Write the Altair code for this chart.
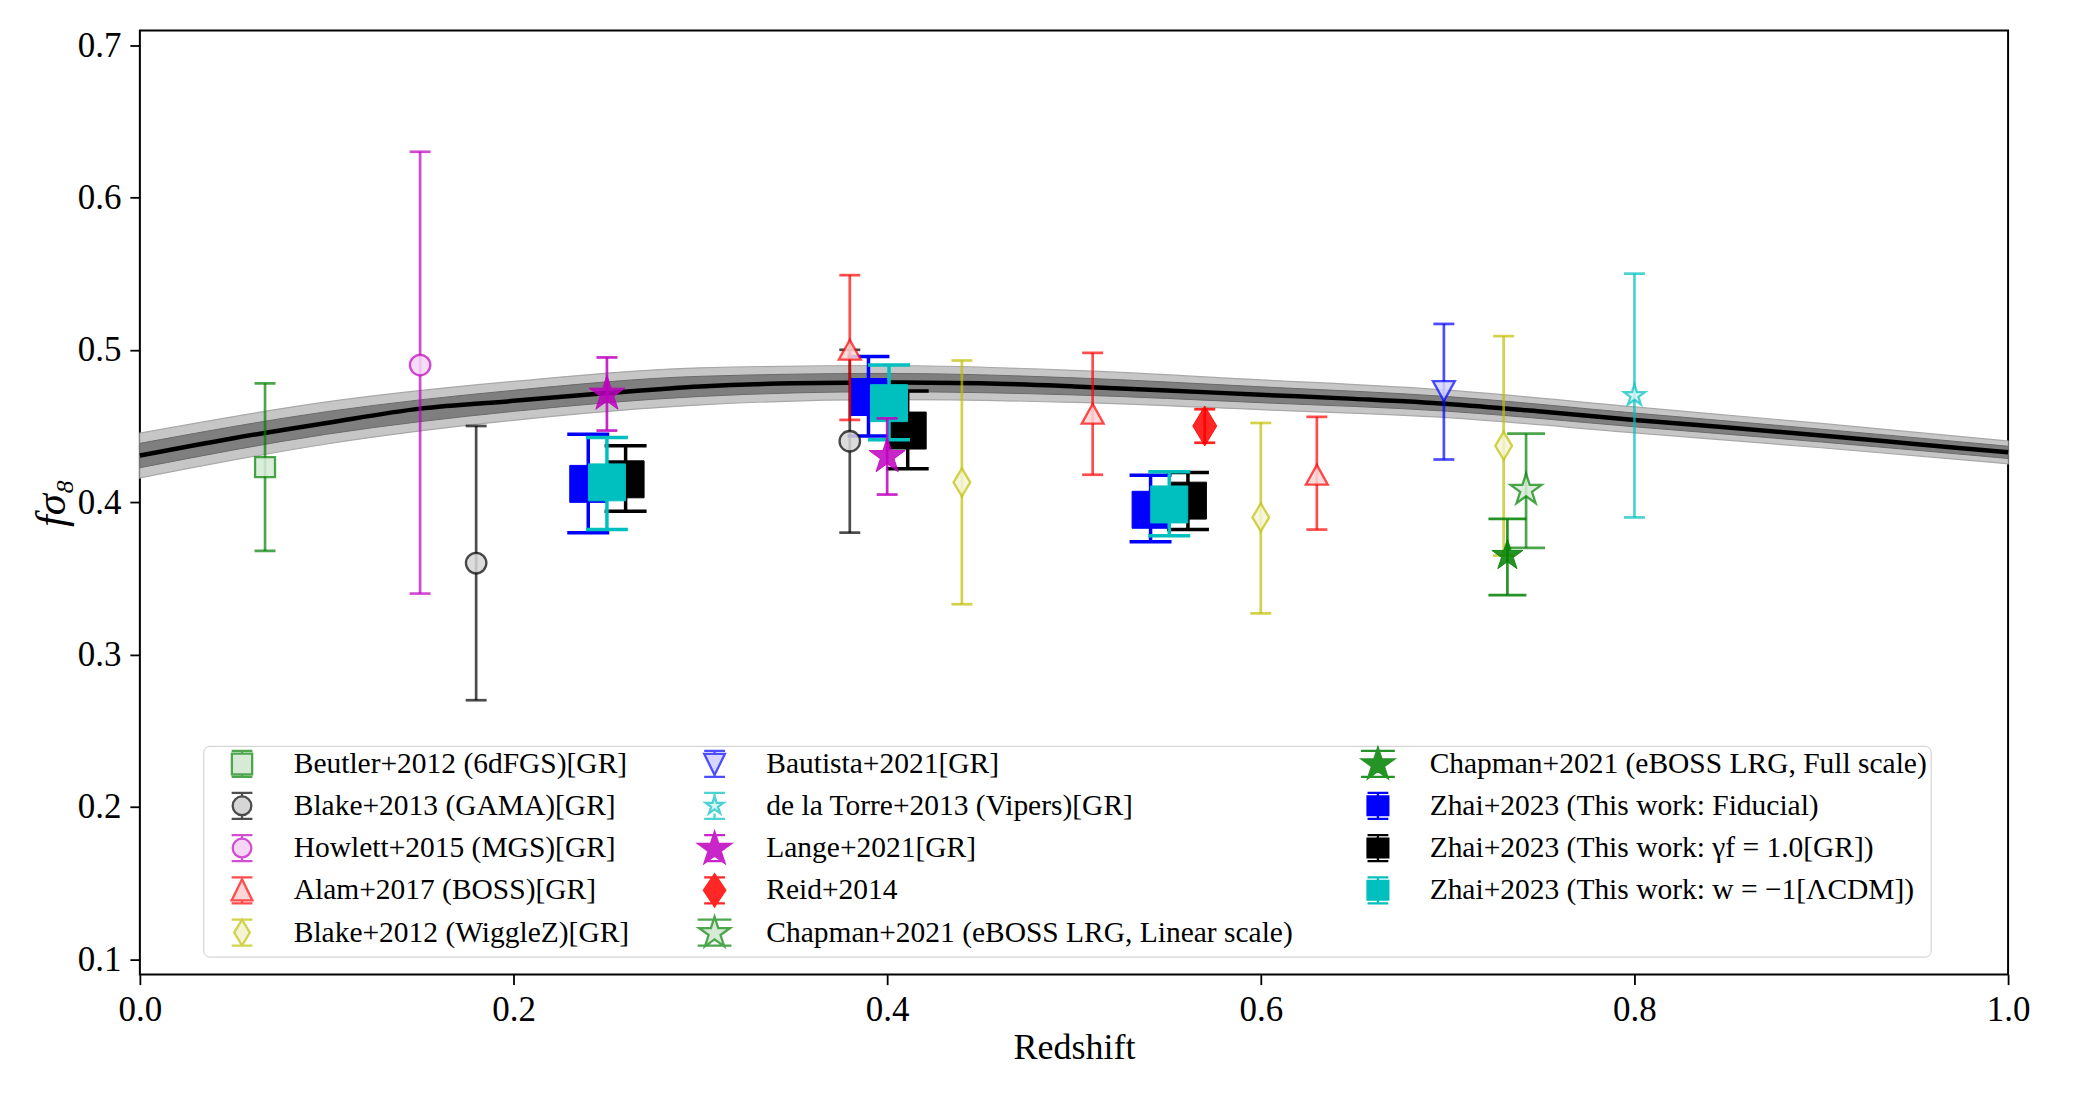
import math
import altair as alt
import pandas as pd

# ---------------- data ----------------
theory_z = [0.00, 0.05, 0.10, 0.15, 0.20, 0.25, 0.30, 0.35, 0.40, 0.45, 0.50,
            0.55, 0.60, 0.65, 0.70, 0.75, 0.80, 0.85, 0.90, 0.95, 1.00]
theory_fs8 = [0.4306, 0.4420, 0.4520, 0.4614, 0.4665, 0.4716, 0.4760, 0.4780, 0.4785, 0.4780, 0.4760,
              0.4733, 0.4705, 0.4678, 0.4645, 0.4595, 0.4540, 0.4490, 0.4437, 0.4382, 0.4327]

band_z = [0.0, 0.1, 0.2, 0.3, 0.4, 0.5, 0.6, 0.7, 0.8, 0.9, 1.0]
band_outer_lo = [0.4159, 0.4382, 0.4537, 0.4638, 0.4673, 0.4655, 0.4607, 0.4555, 0.4455, 0.4357, 0.4252]
band_outer_hi = [0.4453, 0.4658, 0.4793, 0.4882, 0.4897, 0.4865, 0.4803, 0.4735, 0.4625, 0.4517, 0.4402]
band_inner_lo = [0.4226, 0.4446, 0.4596, 0.4694, 0.4725, 0.4704, 0.4653, 0.4597, 0.4495, 0.4395, 0.4287]
band_inner_hi = [0.4386, 0.4594, 0.4734, 0.4826, 0.4845, 0.4816, 0.4757, 0.4693, 0.4585, 0.4479, 0.4367]

beutler_z, beutler_f, beutler_lo, beutler_hi = [0.067], [0.423], [0.368], [0.478]
blake13_z, blake13_f, blake13_lo, blake13_hi = [0.18, 0.38], [0.36, 0.44], [0.27, 0.38], [0.45, 0.50]
howlett_z, howlett_f, howlett_lo, howlett_hi = [0.15], [0.49], [0.34], [0.63]
alam_z = [0.38, 0.51, 0.63]
alam_f = [0.500, 0.458, 0.418]
alam_lo = [0.454, 0.418, 0.382]
alam_hi = [0.549, 0.498, 0.456]
blake12_z = [0.44, 0.60, 0.73]
blake12_f = [0.413, 0.390, 0.437]
blake12_lo = [0.333, 0.327, 0.365]
blake12_hi = [0.493, 0.452, 0.509]
bautista_z, bautista_f, bautista_lo, bautista_hi = [0.698], [0.473], [0.428], [0.517]
delatorre_z, delatorre_f, delatorre_lo, delatorre_hi = [0.80], [0.470], [0.390], [0.550]
lange_z, lange_f, lange_lo, lange_hi = [0.25, 0.40], [0.471, 0.430], [0.447, 0.405], [0.495, 0.455]
reid_z, reid_f, reid_lo, reid_hi = [0.57], [0.450], [0.439], [0.461]
chaplin_z, chaplin_f, chaplin_lo, chaplin_hi = [0.742], [0.408], [0.370], [0.445]
chapfull_z, chapfull_f, chapfull_lo, chapfull_hi = [0.732], [0.365], [0.339], [0.389]
zfid_z = [0.240, 0.390, 0.541]
zfid_f = [0.412, 0.469, 0.395]
zfid_lo = [0.380, 0.4435, 0.374]
zfid_hi = [0.4445, 0.4956, 0.4176]
zgr_z = [0.260, 0.411, 0.561]
zgr_f = [0.415, 0.447, 0.401]
zgr_lo = [0.394, 0.422, 0.382]
zgr_hi = [0.437, 0.473, 0.4195]
zlcdm_z = [0.250, 0.401, 0.551]
zlcdm_f = [0.413, 0.465, 0.3985]
zlcdm_lo = [0.382, 0.441, 0.378]
zlcdm_hi = [0.4425, 0.490, 0.420]

S_BEUTLER = "Beutler+2012 (6dFGS)[GR]"
S_BLAKE13 = "Blake+2013 (GAMA)[GR]"
S_HOWLETT = "Howlett+2015 (MGS)[GR]"
S_ALAM = "Alam+2017 (BOSS)[GR]"
S_BLAKE12 = "Blake+2012 (WiggleZ)[GR]"
S_BAUT = "Bautista+2021[GR]"
S_DLT = "de la Torre+2013 (Vipers)[GR]"
S_LANGE = "Lange+2021[GR]"
S_REID = "Reid+2014"
S_CHLIN = "Chapman+2021 (eBOSS LRG, Linear scale)"
S_CHFULL = "Chapman+2021 (eBOSS LRG, Full scale)"
S_ZFID = "Zhai+2023 (This work: Fiducial)"
S_ZGR = "Zhai+2023 (This work: γf = 1.0[GR])"
S_ZLCDM = "Zhai+2023 (This work: w = −1[ΛCDM])"

# ---------------- styling ----------------
FONT = "Liberation Serif"
W, H = 1870, 945


def star(R, cy=0.0):
    pts = []
    for k in range(10):
        a = -math.pi / 2 + k * math.pi / 5
        rr = R if k % 2 == 0 else R * 0.382
        pts.append(f"{rr * math.cos(a):.3f},{rr * math.sin(a) + cy:.3f}")
    return "M" + "L".join(pts) + "Z"


SQUARE = "M-1,-1H1V1H-1Z"
CIRCLE = "M-1,0A1,1 0 1,0 1,0A1,1 0 1,0 -1,0Z"
TRI_UP = "M0,-0.9L1,0.9L-1,0.9Z"
TRI_DOWN = "M-1,-0.9L1,-0.9L0,0.9Z"
THIN_D = "M0,-1L0.6,0L0,1L-0.6,0Z"
STAR = star(1.0)

CAPS = " M-0.8,-1H0.8 M-0.8,1H0.8"
BOX = " M-1.35,-1.22 M1.35,1.22"   # equal bounds for every legend symbol
L_SQUARE = "M-0.78,-0.8H0.78V0.8H-0.78Z M0,-1V-0.8 M0,0.8V1" + CAPS + BOX
L_CIRCLE = "M-0.72,0A0.72,0.72 0 1,0 0.72,0A0.72,0.72 0 1,0 -0.72,0Z M0,-1V-0.72 M0,0.72V1" + CAPS + BOX
L_TRIUP = "M0,-0.85L0.8,0.78L-0.8,0.78Z M0,-1V-0.85 M0,0.78V1" + CAPS + BOX
L_THIND = "M0,-1L0.6,0L0,1L-0.6,0Z" + CAPS + BOX
L_TRIDOWN = "M-0.8,-0.78L0.8,-0.78L0,0.85Z M0,-1V-0.78 M0,0.85V1" + CAPS + BOX
L_SSTAR = star(0.72) + " M0,-1V-0.72 M0,0.6V1" + CAPS + BOX
L_LANGE = star(1.28, 0.08) + CAPS + BOX
L_REID = "M0,-1.22L0.82,0L0,1.22L-0.82,0Z" + CAPS + BOX
L_CHAP = star(1.26, 0.04) + " M-1.3,-1H1.3 M-1.3,1H1.3" + BOX
L_ZHAI = "M-0.8,-0.72H0.8V0.72H-0.8Z M0,-1V-0.72 M0,0.72V1" + CAPS + BOX

LW = 2.7
# name: (base colour, alpha, open?, data path, size, cap, lw, legend stroke, legend fill, legend path)
STYLES = {
    S_BEUTLER: ("#008000", 0.7, True, SQUARE, 400, 21, LW, "#4da64d", "#d6ead6", L_SQUARE),
    S_BLAKE13: ("#000000", 0.7, True, CIRCLE, 420, 21, LW, "#4d4d4d", "#d6d6d6", L_CIRCLE),
    S_HOWLETT: ("#bf00bf", 0.7, True, CIRCLE, 420, 21, LW, "#d24dd2", "#f5d6f5", L_CIRCLE),
    S_ALAM: ("#ff0000", 0.7, True, TRI_UP, 484, 21, LW, "#ff4d4d", "#ffd6d6", L_TRIUP),
    S_BLAKE12: ("#bfbf00", 0.7, True, THIN_D, 784, 21, LW, "#d2d24d", "#f5f5d6", L_THIND),
    S_BAUT: ("#0000ff", 0.7, True, TRI_DOWN, 484, 21, LW, "#4d4dff", "#d6d6ff", L_TRIDOWN),
    S_DLT: ("#00bfbf", 0.7, True, STAR, 484, 21, LW, "#4dd2d2", "#d6f5f5", L_SSTAR),
    S_LANGE: ("#bf00bf", 0.85, False, STAR, 1430, 21, LW, "#c926c9", "#c926c9", L_LANGE),
    S_REID: ("#ff0000", 0.85, False, THIN_D, 1600, 21, LW, "#ff2626", "#ff2626", L_REID),
    S_CHLIN: ("#008000", 0.7, True, STAR, 1063, 38, LW, "#4da64d", "#d6ead6", L_CHAP),
    S_CHFULL: ("#008000", 0.85, False, STAR, 1063, 38, LW, "#269326", "#269326", L_CHAP),
    S_ZFID: ("#0000ff", 1.0, False, SQUARE, 1369, 42, 3.5, "#0000ff", "#0000ff", L_ZHAI),
    S_ZGR: ("#000000", 1.0, False, SQUARE, 1369, 42, 3.5, "#000000", "#000000", L_ZHAI),
    S_ZLCDM: ("#00bfbf", 1.0, False, SQUARE, 1369, 42, 3.5, "#00bfbf", "#00bfbf", L_ZHAI),
}

PALE = {S_BEUTLER: "#d6ead6", S_BLAKE13: "#d6d6d6", S_HOWLETT: "#f5d6f5", S_ALAM: "#ffd6d6",
        S_BLAKE12: "#f5f5d6", S_BAUT: "#d6d6ff", S_DLT: "#d6f5f5", S_CHLIN: "#d6ead6"}

x_scale = alt.Scale(domain=[0.0, 1.0], nice=False, zero=False)
y_scale = alt.Scale(domain=[0.0899, 0.7096], nice=False, zero=False)

x_axis = alt.Axis(values=[0.0, 0.2, 0.4, 0.6, 0.8, 1.0], format=".1f", title="Redshift",
                  grid=False, domain=False, tickSize=10, tickWidth=1.8, tickColor="black",
                  labelFont=FONT, labelFontSize=35, labelColor="black", labelPadding=8,
                  labelFlush=False, labelOverlap=False,
                  titleFont=FONT, titleFontSize=36, titleFontWeight="normal", titleColor="black",
                  titleX=W / 2, titleY=73, titleAlign="center", titleBaseline="middle")
y_axis = alt.Axis(values=[0.1, 0.2, 0.3, 0.4, 0.5, 0.6, 0.7], format=".1f", title="fσ₈",
                  grid=False, domain=False, tickSize=10, tickWidth=1.8, tickColor="black",
                  labelFont=FONT, labelFontSize=35, labelColor="black", labelPadding=9,
                  labelOverlap=False,
                  titleFont=FONT, titleFontSize=43, titleFontWeight="normal", titleFontStyle="italic",
                  titleColor="black", titleX=-88, titleY=H / 2, titleAngle=270,
                  titleAlign="center", titleBaseline="middle")


def X(field):
    return alt.X(field, type="quantitative", scale=x_scale, axis=x_axis)


def Y(field):
    return alt.Y(field, type="quantitative", scale=y_scale, axis=y_axis)


layers = []

# theory bands and line
band_df = pd.DataFrame({"z": band_z, "olo": band_outer_lo, "ohi": band_outer_hi,
                        "ilo": band_inner_lo, "ihi": band_inner_hi})
theory_df = pd.DataFrame({"z": theory_z, "f": theory_fs8})
layers.append(alt.Chart(band_df).mark_area(color="#c6c6c6", stroke="#a8a8a8", strokeWidth=1.2,
                                           interpolate="monotone")
              .encode(x=X("z"), y=Y("olo"), y2=alt.Y2("ohi")))
layers.append(alt.Chart(band_df).mark_area(color="#7f7f7f", stroke="#6a6a6a", strokeWidth=1.0,
                                           interpolate="monotone")
              .encode(x=X("z"), y=Y("ilo"), y2=alt.Y2("ihi")))
layers.append(alt.Chart(theory_df).mark_line(color="black", strokeWidth=4.5, interpolate="monotone")
              .encode(x=X("z"), y=Y("f")))

SERIES = [
    (S_ZFID, zfid_z, zfid_f, zfid_lo, zfid_hi),
    (S_ZGR, zgr_z, zgr_f, zgr_lo, zgr_hi),
    (S_ZLCDM, zlcdm_z, zlcdm_f, zlcdm_lo, zlcdm_hi),
    (S_BEUTLER, beutler_z, beutler_f, beutler_lo, beutler_hi),
    (S_BLAKE13, blake13_z, blake13_f, blake13_lo, blake13_hi),
    (S_HOWLETT, howlett_z, howlett_f, howlett_lo, howlett_hi),
    (S_ALAM, alam_z, alam_f, alam_lo, alam_hi),
    (S_BLAKE12, blake12_z, blake12_f, blake12_lo, blake12_hi),
    (S_BAUT, bautista_z, bautista_f, bautista_lo, bautista_hi),
    (S_DLT, delatorre_z, delatorre_f, delatorre_lo, delatorre_hi),
    (S_LANGE, lange_z, lange_f, lange_lo, lange_hi),
    (S_REID, reid_z, reid_f, reid_lo, reid_hi),
    (S_CHLIN, chaplin_z, chaplin_f, chaplin_lo, chaplin_hi),
    (S_CHFULL, chapfull_z, chapfull_f, chapfull_lo, chapfull_hi),
]

for name, zs, fs, los, his in SERIES:
    col, alpha, is_open, path, size, cap, lw = STYLES[name][:7]
    df = pd.DataFrame({"z": zs, "f": fs, "lo": los, "hi": his})
    base = alt.Chart(df)
    layers.append(base.mark_rule(color=col, strokeWidth=lw, opacity=alpha)
                  .encode(x=X("z"), y=Y("lo"), y2=alt.Y2("hi")))
    layers.append(base.mark_tick(orient="horizontal", color=col, thickness=lw, size=cap, opacity=alpha)
                  .encode(x=X("z"), y=Y("lo")))
    layers.append(base.mark_tick(orient="horizontal", color=col, thickness=lw, size=cap, opacity=alpha)
                  .encode(x=X("z"), y=Y("hi")))
    if is_open:
        pt = base.mark_point(shape=path, size=size, filled=True, fill=PALE[name], fillOpacity=0.85,
                             stroke=col, strokeOpacity=alpha, strokeWidth=2.3)
    else:
        pt = base.mark_point(shape=path, size=size, filled=True, fill=col, fillOpacity=alpha,
                             stroke=col, strokeOpacity=alpha, strokeWidth=1.0)
    layers.append(pt.encode(x=X("z"), y=Y("f")))

# legend: Vega fills the 3 columns column by column (5 rows)
legend_order = [S_BEUTLER, S_BLAKE13, S_HOWLETT, S_ALAM, S_BLAKE12,
                S_BAUT, S_DLT, S_LANGE, S_REID, S_CHLIN,
                S_CHFULL, S_ZFID, S_ZGR, S_ZLCDM]
first_pt = {name: (zs[0], fs[0]) for name, zs, fs, _, _ in SERIES}
leg_df = pd.DataFrame({"series": legend_order,
                       "z": [first_pt[n][0] for n in legend_order],
                       "f": [first_pt[n][1] for n in legend_order]})

LEG = alt.Legend(title=None, orient="none", legendX=63.5, legendY=716, columns=3, columnPadding=49,
                 rowPadding=0.3, gridAlign="each", symbolSize=676, symbolStrokeWidth=2.3,
                 symbolOffset=21, symbolOpacity=1, symbolFillColor="white", labelFont=FONT,
                 labelFontSize=29.5, labelColor="black", labelOffset=37, labelLimit=2000, padding=3,
                 fillColor="white", strokeColor="#cccccc", cornerRadius=6)

layers.append(
    alt.Chart(leg_df).mark_point(strokeWidth=2.3).encode(
        x=X("z"), y=Y("f"),
        shape=alt.Shape("series:N", scale=alt.Scale(domain=legend_order,
                                                    range=[STYLES[n][9] for n in legend_order]), legend=LEG),
        stroke=alt.Stroke("series:N", scale=alt.Scale(domain=legend_order,
                                                      range=[STYLES[n][7] for n in legend_order]), legend=LEG),
        fill=alt.Fill("series:N", scale=alt.Scale(domain=legend_order,
                                                  range=[STYLES[n][8] for n in legend_order]), legend=LEG),
        opacity=alt.value(0),
    )
)

chart = alt.layer(*layers).properties(
    width=W, height=H,
    padding={"left": 132, "top": 22, "right": 84, "bottom": 117},
    autosize=alt.AutoSizeParams(type="none"),
    background="white",
).configure_view(stroke="black", strokeWidth=2)

chart.save("out.html", embed_options={"renderer": "svg", "actions": False})
